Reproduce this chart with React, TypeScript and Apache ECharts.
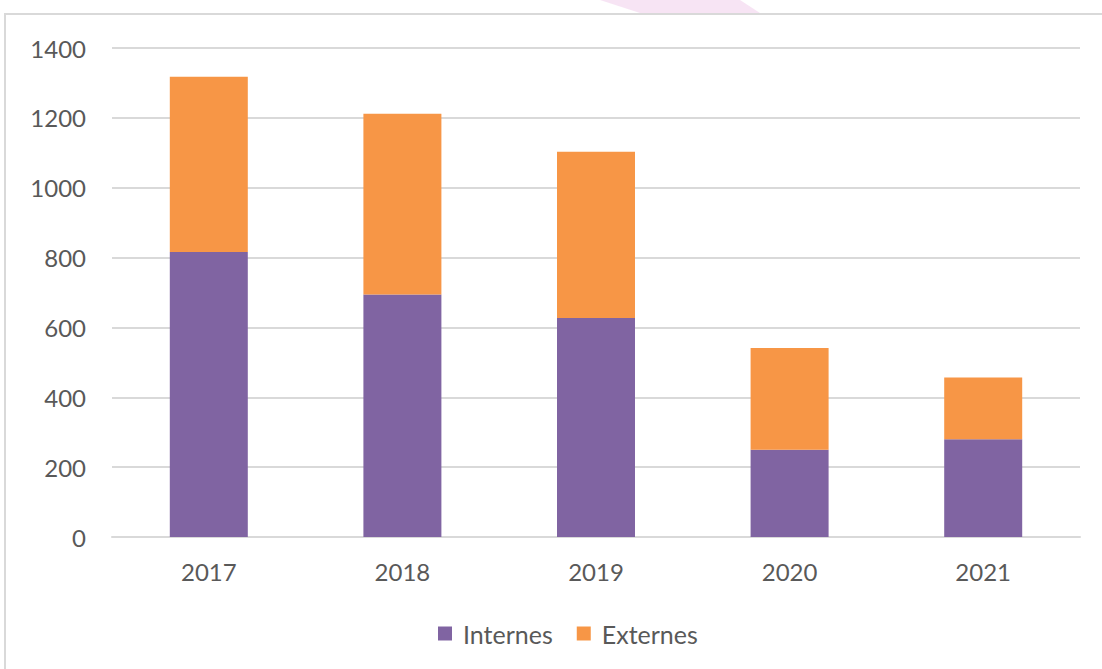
import React, { useEffect, useRef } from "react";
import * as echarts from "echarts";

const categories = ["2017", "2018", "2019", "2020", "2021"];
const internes = [816, 694, 627, 250, 280];
const externes = [502, 518, 476, 291, 177];
const yTicks = { min: 0, max: 1400, interval: 200 };

export default function App() {
  const ref = useRef<HTMLDivElement>(null);
  useEffect(() => {
    if (!ref.current) return;
    const chart = echarts.init(ref.current, undefined, { renderer: "svg" });
    const font = "Lato, 'Open Sans', sans-serif";
    chart.setOption({
      animation: false,
      backgroundColor: "#ffffff",
      graphic: [
        {
          type: "polygon",
          shape: { points: [[600, 0], [740, 0], [760, 13], [640, 13]] },
          style: { fill: "#f3d9ef", opacity: 0.7 },
          silent: true,
        },
        {
          type: "rect",
          shape: { x: 5, y: 14, width: 1120, height: 680 },
          style: { fill: "none", stroke: "#d9d9d9", lineWidth: 2 },
          silent: true,
        },
      ],
      grid: { left: 112, right: 22, top: 48, bottom: 132 },
      xAxis: {
        type: "category",
        data: categories,
        axisLine: { show: true, lineStyle: { color: "#d9d9d9", width: 2 } },
        axisTick: { show: false },
        axisLabel: { color: "#595959", fontSize: 24, fontFamily: font, margin: 22 },
      },
      yAxis: {
        type: "value",
        min: yTicks.min,
        max: yTicks.max,
        interval: yTicks.interval,
        axisLine: { show: false },
        axisTick: { show: false },
        axisLabel: {
          color: "#595959",
          fontSize: 24,
          fontFamily: font,
          margin: 26,
          formatter: (v: number) => String(v),
        },
        splitLine: { lineStyle: { color: "#d9d9d9", width: 2 } },
      },
      legend: {
        data: ["Internes", "Externes"],
        left: 433,
        top: 616,
        icon: "rect",
        itemWidth: 14,
        itemHeight: 14,
        itemGap: 24,
        textStyle: { color: "#595959", fontSize: 25, fontFamily: font, padding: [0, 0, 0, 6] },
      },
      series: [
        {
          name: "Internes",
          type: "bar",
          stack: "total",
          data: internes,
          barWidth: 78,
          itemStyle: { color: "#8064A2" },
        },
        {
          name: "Externes",
          type: "bar",
          stack: "total",
          data: externes,
          barWidth: 78,
          itemStyle: { color: "#F79646" },
        },
      ],
    });
    return () => chart.dispose();
  }, []);
  return (
    <div
      ref={ref}
      style={{ position: "absolute", left: 0, top: 0, width: 1102, height: 669 }}
    />
  );
}
